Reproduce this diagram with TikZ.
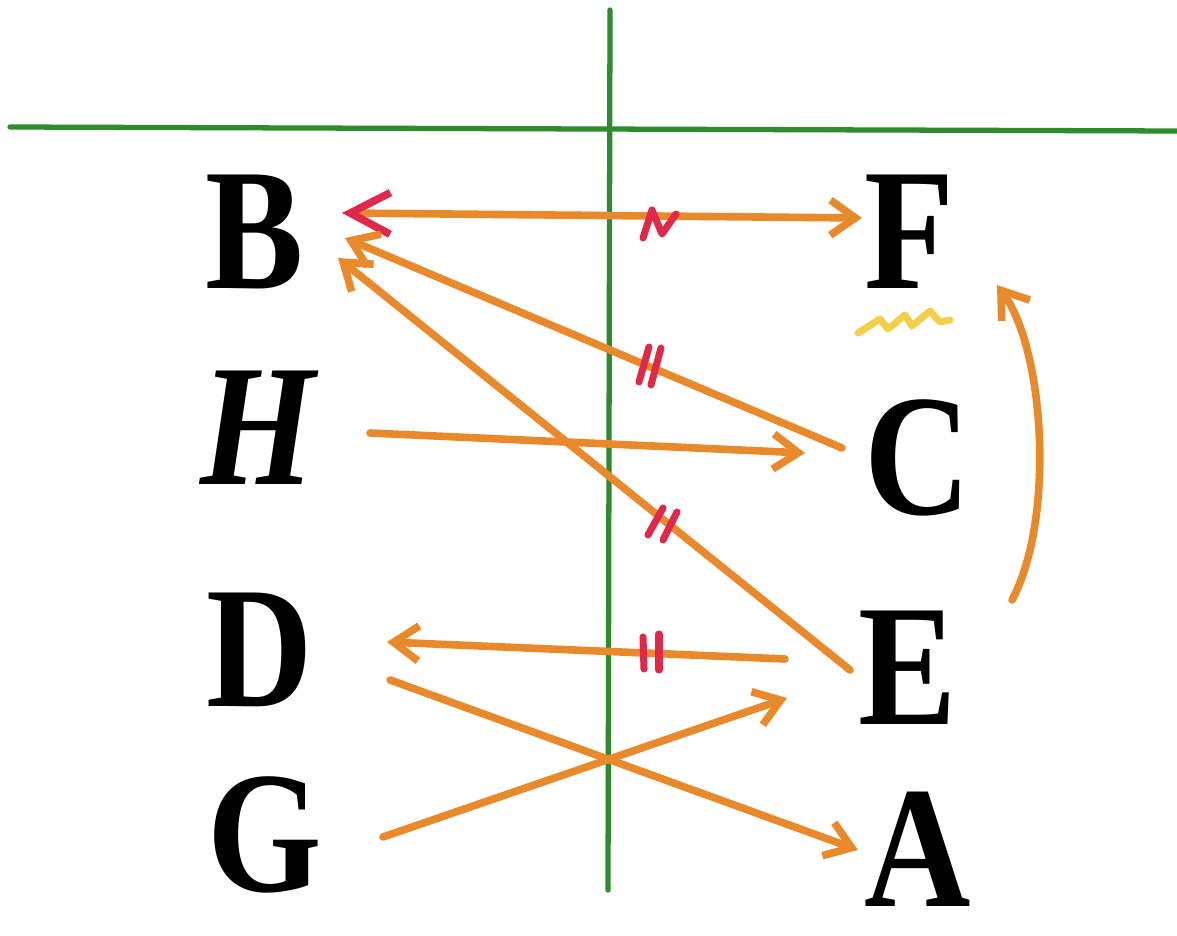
\documentclass[tikz,border=0pt]{standalone}
\usepackage{fontspec}
\setmainfont{Liberation Serif}
\usetikzlibrary{arrows.meta}
\definecolor{ora}{HTML}{E8892C}
\definecolor{grn}{HTML}{2E8B2E}
\definecolor{rmark}{HTML}{E0284A}
\definecolor{ylw}{HTML}{F2D04A}
\tikzset{
  letter/.style={inner sep=0pt, text=black, font=\fontsize{148}{148}\selectfont\bfseries, xscale=0.85},
  axis/.style={draw=grn, line width=4.5pt, line cap=round},
  conn/.style={draw=ora, line width=6.5pt, line cap=round, -{Straight Barb[length=0.75cm,width=1.05cm]}},
  tick/.style={draw=rmark, line width=6pt, line cap=round},
}
\begin{document}
\begin{tikzpicture}[x=0.03cm,y=-0.03cm]
\useasboundingbox (0,0) rectangle (1177,936);
% axes
\coordinate (hl) at (10,127); \coordinate (hr) at (1177,131);
\coordinate (vt) at (610,10); \coordinate (vb) at (608,890);
\draw[axis] (hl) -- (hr);
\draw[axis] (vt) -- (vb);
% letters
\node[letter] (B) at (255,232) {B};
\node[letter,font=\fontsize{148}{148}\selectfont\bfseries\itshape] (H) at (258,428) {H};
\node[letter] (D) at (260,650) {D};
\node[letter] (G) at (265,835) {G};
\node[letter] (F) at (910,232) {F};
\node[letter] (C) at (918,458) {C};
\node[letter] (E) at (908,668) {E};
\node[letter] (A) at (918,849) {A};
% connector ends
\coordinate (bf1) at (342,213); \coordinate (bf2) at (862,218);
\coordinate (cb1) at (842,448); \coordinate (cb2) at (345,238);
\coordinate (eb1) at (850,670); \coordinate (eb2) at (338,258);
\coordinate (hc1) at (370,433); \coordinate (hc2) at (805,453);
\coordinate (ed1) at (785,659); \coordinate (ed2) at (387,642);
\coordinate (ge1) at (383,837); \coordinate (ge2) at (787,698);
\coordinate (da1) at (390,680); \coordinate (da2) at (858,850);
\coordinate (ef1) at (1012,600); \coordinate (ef2) at (997,285);
% connectors
\draw[draw=ora, line width=6.5pt, line cap=round,
  {Straight Barb[color=rmark,length=1.2cm,width=1.25cm]}-{Straight Barb[length=0.75cm,width=1.05cm]}] (bf1) -- (bf2);
\draw[conn] (cb1) -- (cb2);
\draw[conn] (eb1) -- (eb2);
\draw[conn] (hc1) -- (hc2);
\draw[conn] (ed1) -- (ed2);
\draw[conn] (ge1) -- (ge2);
\draw[conn] (da1) -- (da2);
\draw[conn] (ef1) .. controls (1055,520) and (1045,350) .. (ef2);
% marks
\draw[tick, line join=round] (643,238) -- (652,210) -- (662,234) -- (676,214);
\draw[tick] (649,347) -- (639,382);
\draw[tick] (661,348) -- (651,385);
\draw[tick] (663,508) -- (648,535);
\draw[tick] (677,512) -- (663,540);
\draw[tick] (643,637) -- (644,669);
\draw[tick] (659,634) -- (659,670);
% yellow squiggle
\draw[draw=ylw, line width=6pt, line cap=round, line join=round]
  (858,333) -- (880,319) -- (888,329) -- (905,315) -- (912,326) -- (930,311) -- (940,322) -- (950,320);
\end{tikzpicture}
\end{document}
